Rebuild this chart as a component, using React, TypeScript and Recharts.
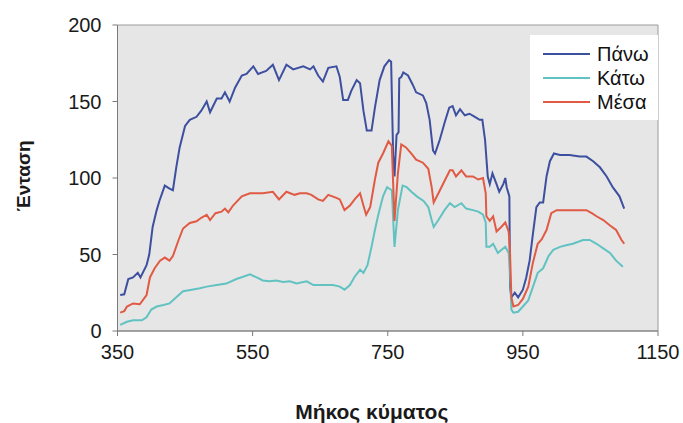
import React from 'react';
import { LineChart, Line, XAxis, YAxis, ReferenceArea, Legend, Label } from 'recharts';

// Wavelength samples (nm) and intensities for each series
const panoWl = [354, 360, 366, 373, 380, 384, 393, 397, 402, 408, 412, 420, 427, 432, 437, 442, 450, 457, 467, 474, 482, 487, 497, 504, 509, 516, 524, 534, 541, 551, 558, 570, 580, 589, 600, 610, 625, 635, 640, 647, 654, 662, 674, 679, 684, 691, 696, 704, 709, 714, 719, 726, 731, 738, 745, 752, 755, 758, 760, 763, 766, 767, 770, 773, 780, 787, 792, 802, 807, 812, 817, 820, 827, 834, 841, 846, 851, 857, 864, 871, 879, 886, 890, 894, 898, 901, 905, 911, 915, 921, 924, 926, 930, 931, 933, 938, 943, 950, 955, 960, 965, 970, 975, 980, 985, 990, 996, 1005, 1019, 1034, 1044, 1054, 1064, 1074, 1083, 1093, 1100];
const panoValues = [23.5, 24, 34, 35, 38, 35, 43, 50, 68, 79, 85, 95, 93, 92, 107, 120, 134, 138, 140, 144, 150, 143, 152, 152, 156, 150, 159, 167, 168, 173, 168, 170, 174, 164, 174, 171, 173, 171, 173, 167, 163, 172, 173, 166, 151, 151, 157, 164, 162, 144, 131, 131, 146, 164, 173, 177, 176, 115, 101, 128, 130, 165, 166, 169, 167, 161, 156, 154, 149, 138, 118, 116, 125, 136, 146, 147, 141, 145, 141, 142, 140, 138, 138, 125, 101, 96, 103, 96, 91, 96, 100, 94, 88, 29, 22, 25, 22, 27, 35, 46, 64, 81, 84, 84, 101, 111, 116, 115, 115, 114, 114, 111, 107, 101, 94, 88, 80];

const katoWl = [354, 364, 373, 386, 393, 400, 408, 418, 427, 437, 447, 460, 472, 482, 497, 511, 526, 536, 546, 556, 565, 575, 585, 595, 605, 615, 630, 640, 650, 660, 669, 679, 686, 694, 701, 709, 714, 720, 726, 731, 736, 743, 749, 756, 760, 765, 772, 778, 785, 793, 803, 810, 815, 818, 825, 834, 842, 849, 859, 866, 876, 884, 891, 895, 896, 901, 906, 913, 918, 924, 929, 931, 933, 936, 943, 950, 958, 965, 972, 980, 988, 995, 1005, 1014, 1024, 1039, 1049, 1059, 1069, 1079, 1088, 1098];
const katoValues = [4, 6, 7, 7, 9, 14, 16, 17, 18, 22, 26, 27, 28, 29, 30, 31, 34, 35.5, 37, 35, 33, 32.5, 33, 32, 32.5, 31, 32.5, 30, 30, 30, 30, 29, 27, 30, 35.5, 40, 38, 43, 55, 66, 76, 88, 94, 92, 55, 79, 95, 94, 91, 88, 85, 81, 72.5, 68, 72.5, 79, 83.5, 81, 83.5, 80, 79, 78, 76, 71, 55, 55, 57, 51, 53, 55, 51, 38, 14, 12, 12.6, 16, 20, 29, 38, 41, 49, 53, 55, 56, 57, 59.5, 59.5, 57, 54, 51, 46, 42];

const mesaWl = [354, 360, 364, 373, 383, 393, 398, 405, 413, 420, 427, 432, 440, 447, 457, 467, 474, 482, 487, 495, 504, 509, 514, 521, 534, 546, 556, 565, 580, 589, 600, 612, 620, 630, 637, 647, 654, 662, 674, 679, 686, 694, 701, 709, 714, 718, 724, 731, 736, 743, 751, 756, 760, 765, 770, 777, 785, 792, 802, 810, 815, 818, 825, 834, 842, 846, 851, 859, 866, 876, 884, 891, 895, 896, 901, 906, 911, 918, 924, 929, 931, 933, 936, 943, 950, 958, 965, 972, 978, 985, 992, 1000, 1014, 1029, 1044, 1052, 1059, 1069, 1079, 1088, 1096, 1100];
const mesaValues = [12, 13, 16, 18, 17.5, 23.5, 35, 41, 46, 48, 46, 49, 59, 67, 70.6, 71.7, 74, 76, 72.5, 77, 78, 80, 77.5, 82, 88, 90, 90, 90, 91, 86, 91, 89, 90, 90, 89, 86, 85, 89, 87, 86, 79, 82, 86, 90, 82, 76, 81, 99, 110, 116, 124, 121, 72, 103, 122, 120, 116, 112, 110, 106, 94, 84, 90, 98, 105, 105, 101, 105, 101, 101, 99, 100, 90, 75, 72, 75, 65, 68, 71, 65, 51, 22, 16, 17, 21, 29, 45, 57, 60, 66, 77, 79, 79, 79, 79, 77, 75, 72.5, 69, 66, 59.5, 57];

const xTicks = [350, 550, 750, 950, 1150];
const yTicks = [0, 50, 100, 150, 200];

const toPoints = (wl: number[], vals: number[]) => wl.map((w, i) => ({ w, v: vals[i] }));

const series = [
  { name: 'Πάνω', color: '#3d4f9f', data: toPoints(panoWl, panoValues) },
  { name: 'Κάτω', color: '#62c2c2', data: toPoints(katoWl, katoValues) },
  { name: 'Μέσα', color: '#e05a44', data: toPoints(mesaWl, mesaValues) },
];

const FONT = '"Liberation Sans", Arial, sans-serif';

// Legend entries in series order (Πάνω, Κάτω, Μέσα)
const LegendBox = () => (
  <div style={{ background: '#ffffff', width: 128, height: 85 }}>
    <svg width={128} height={85}>
      {series.map((s, i) => (
        <g key={s.name}>
          <line x1={13} x2={60} y1={19 + i * 24} y2={19 + i * 24} stroke={s.color} strokeWidth={2} />
          <text x={67} y={19 + i * 24} dy="0.36em" fontSize={20} fill="#111" fontFamily={FONT}>
            {s.name}
          </text>
        </g>
      ))}
    </svg>
  </div>
);

export default function App() {
  return (
    <div style={{ position: 'fixed', left: 0, top: 0, width: 683, height: 423, background: '#ffffff' }}>
      <LineChart width={683} height={423} margin={{ top: 25, right: 25, bottom: 62, left: 57.5 }}>
        <ReferenceArea x1={350} x2={1150} y1={0} y2={200} fill="#e6e6e6" fillOpacity={1} stroke="#9a9a9a" strokeWidth={1} />
        <XAxis
          dataKey="w"
          type="number"
          domain={[350, 1150]}
          ticks={xTicks}
          allowDuplicatedCategory={false}
          height={30}
          tickSize={5}
          tickMargin={9}
          stroke="#7a7a7a"
          tick={{ fontSize: 20, fill: '#1a1a1a', fontFamily: FONT }}
        >
          <Label
            value="Μήκος κύματος"
            position="bottom"
            offset={43}
            dx={-16}
            style={{ fontSize: 21, fontWeight: 'bold', fill: '#1a1a1a', fontFamily: FONT }}
          />
        </XAxis>
        <YAxis
          type="number"
          domain={[0, 200]}
          ticks={yTicks}
          width={60}
          tickSize={5}
          tickMargin={11}
          stroke="#7a7a7a"
          tick={{ fontSize: 20, fill: '#1a1a1a', fontFamily: FONT }}
        >
          <Label
            value="Ένταση"
            angle={-90}
            position="insideLeft"
            offset={0}
            dx={-34}
            dy={-2}
            style={{ fontSize: 19, fontWeight: 'bold', fill: '#1a1a1a', fontFamily: FONT, textAnchor: 'middle' }}
          />
        </YAxis>
        {series.map((s) => (
          <Line
            key={s.name}
            data={s.data}
            dataKey="v"
            name={s.name}
            type="linear"
            stroke={s.color}
            strokeWidth={2}
            dot={false}
            activeDot={false}
            isAnimationActive={false}
          />
        ))}
        <Legend
          layout="horizontal"
          verticalAlign="middle"
          align="center"
          width={128}
          height={85}
          wrapperStyle={{ left: 530, top: 35 }}
          content={<LegendBox />}
        />
      </LineChart>
    </div>
  );
}
